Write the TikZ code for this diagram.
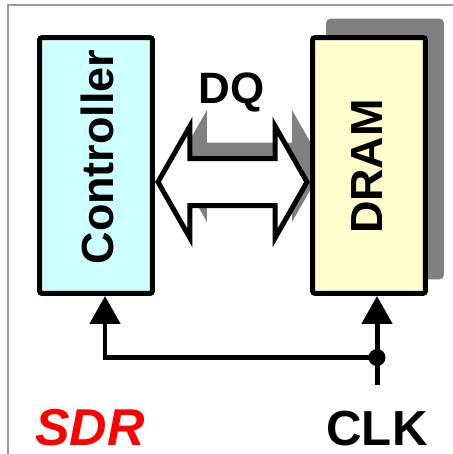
\documentclass[tikz,border=0pt]{standalone}
\usepackage{fontspec}
\setmainfont{Liberation Sans}
\usepackage{xcolor}
\usepackage{tikz}
\usetikzlibrary{arrows.meta, calc, shadows, backgrounds}
\definecolor{sdrcyan}{HTML}{CCFFFF}
\definecolor{sdryellow}{HTML}{FFFFCC}
\definecolor{sdrshadow}{HTML}{808080}
\definecolor{sdrframe}{HTML}{9A9A9A}
\definecolor{sdrred}{HTML}{FF0000}

\begin{document}
\begin{tikzpicture}[x=0.02cm, y=-0.02cm,
  chipbox/.style={draw=black, line width=0.1cm, rounded corners=1.5pt, minimum width=2.26cm, minimum height=5.12cm, inner sep=0pt},
  chiplabel/.style={rotate=90, font=\fontsize{25.6}{30}\selectfont\bfseries},
  biglabel/.style={anchor=base, font=\fontsize{28}{32}\selectfont\bfseries},
  arr/.style={-{Triangle[length=0.56cm, width=0.6cm]}, line width=0.1cm},
  fatarrow/.style={draw=black, fill=white, line width=0.1cm, line join=miter}
]
  \useasboundingbox (0,0) rectangle (453,454);
  \draw[sdrframe, line width=0.04cm] (8,5) rectangle (470,470);

  \node[chipbox, fill=sdrcyan] (ctrl) at (96,165.5) {};
  \node[chipbox, fill=sdryellow, drop shadow={shadow xshift=0.32cm, shadow yshift=0.33cm, opacity=1, fill=sdrshadow, draw=sdrshadow}] (dram) at (369,165.5) {};
  \node[chiplabel] (ctrltext) at (97,157) {Controller};
  \node[chiplabel] (dramtext) at (367,166.5) {DRAM};

  \node[anchor=base, font=\fontsize{25}{30}\selectfont\bfseries] (dq) at (231.5,103) {DQ};

  \coordinate (dqL) at ($(ctrl.east |- 0,182)+(3,0)$);
  \coordinate (dqR) at ($(dram.west |- 0,182)+(-3,0)$);
  \coordinate (dqLs) at ($(dqL)+(17,-16)$);
  \coordinate (dqRs) at ($(dqR)+(17,-16)$);

  \begin{scope}[on background layer]
    \fill[sdrshadow] (dqLs) -- ++(32,-56) -- ++(0,32.5) -- ($(dqRs)+(-32,-23.5)$) -- ++(0,-32.5) -- (dqRs)
      -- ++(-32,56) -- ++(0,-32.5) -- ($(dqLs)+(32,23.5)$) -- ++(0,32.5) -- cycle;
  \end{scope}
  \draw[fatarrow] (dqL) -- ++(32,-56) -- ++(0,32.5) -- ($(dqR)+(-32,-23.5)$) -- ++(0,-32.5) -- (dqR)
    -- ++(-32,56) -- ++(0,-32.5) -- ($(dqL)+(32,23.5)$) -- ++(0,32.5) -- cycle;

  \coordinate (clkin) at (377,385);
  \coordinate (tap) at (377,357.5);
  \coordinate (ctrlclk) at ($(ctrl.south)+(9,0)$);

  \draw[arr] (clkin) -- (clkin |- dram.south);
  \draw[arr] (tap) -| (ctrlclk);
  \fill (tap) circle (8.5);

  \node[biglabel] (clk) at (377,445) {CLK};
  \node[biglabel, text=sdrred, font=\fontsize{29.5}{34}\selectfont\bfseries\itshape] (sdr) at (90,445) {SDR};
\end{tikzpicture}
\end{document}
